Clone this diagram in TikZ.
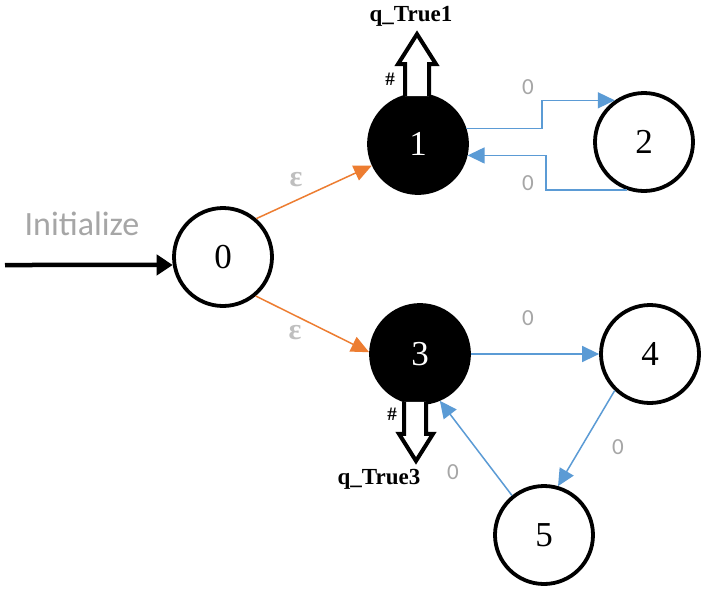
\documentclass[tikz,border=0pt]{standalone}
\usepackage{fontspec}
\setmainfont{Liberation Serif}
\newfontfamily\calib{Carlito}
\usetikzlibrary{arrows.meta,calc}
\definecolor{oedgec}{HTML}{ED7D31}
\definecolor{bedgec}{HTML}{5B9BD5}
\definecolor{lblgray}{HTML}{A6A6A6}
\definecolor{epsgray}{HTML}{BFBFBF}
\tikzset{
  state/.style={circle,draw=black,line width=3.8pt,fill=white,minimum size=98pt,inner sep=0pt,font=\fontsize{35}{35}\selectfont},
  accstate/.style={state,fill=black,text=white},
  oedge/.style={draw=oedgec,line width=1.5pt,-{Triangle[length=18pt,width=16pt]}},
  bedge/.style={draw=bedgec,line width=1.5pt,-{Triangle[length=17pt,width=16pt]}},
  initedge/.style={draw=black,line width=4.5pt,-{Triangle[length=16pt,width=20pt]}},
  blockarrow/.style={draw=black,line width=4pt,fill=white,line join=miter},
  zlbl/.style={text=lblgray,font=\calib\fontsize{23}{23}\selectfont,inner sep=0pt},
  elbl/.style={text=epsgray,font=\bfseries\fontsize{30}{30}\selectfont,inner sep=0pt},
  qlbl/.style={font=\bfseries\fontsize{23}{23}\selectfont,inner sep=0pt},
  hlbl/.style={font=\bfseries\fontsize{19}{19}\selectfont,inner sep=0pt},
}
\begin{document}
\begin{tikzpicture}[x=1pt,y=-1pt]
\useasboundingbox[fill=white] (0,0) rectangle (714,600);
% states
\node[state] (n0) at (223,257) {0};
\node[accstate] (n1) at (418,144) {1};
\node[state] (n2) at (644,142) {2};
\node[accstate] (n3) at (420,354) {3};
\node[state] (n4) at (650,354) {4};
\node[state] (n5) at (544,535) {5};
% initial arrow
\coordinate (start) at (5,265);
\draw[initedge] (start) -- (n0.189);
\node[text=lblgray,font=\calib\fontsize{34}{34}\selectfont,inner sep=0pt] (init) at (82,224) {Initialize};
% epsilon edges
\draw[oedge] (n0.49) -- (n1.205);
\draw[oedge] (n0.310) -- (n3.178);
\node[elbl] (e1) at (296,180) {ε};
\node[elbl] (e2) at (295,333) {ε};
% 1 <-> 2
\coordinate (c12) at (542,0);
\coordinate (c21) at (546,0);
\draw[bedge] (n1.18) -| (c12 |- n2.125) -- (n2.125);
\draw[bedge] (n2.250) -| (c21 |- n1.347) -- (n1.347);
\node[zlbl] (l12) at (528,87) {0};
\node[zlbl] (l21) at (528,183) {0};
% 3 -> 4 -> 5 -> 3
\draw[bedge] (n3) -- (n4);
\draw[bedge] (n4.226) -- (n5.74);
\draw[bedge] (n5.129) -- (n3.293);
\node[zlbl] (l34) at (528,318) {0};
\node[zlbl] (l45) at (618,447) {0};
\node[zlbl] (l53) at (453,472) {0};
% block arrows
\draw[blockarrow] ($(n1.north)+(-13,3)$) -- ($(n1.north)+(-13,-29)$) -- ($(n1.north)+(-20,-29)$) -- ($(n1.north)+(-1,-59)$) -- ($(n1.north)+(18,-29)$) -- ($(n1.north)+(11,-29)$) -- ($(n1.north)+(11,3)$);
\node[qlbl] (q1) at (411,16) {q\_True1};
\node[hlbl] (h1) at (390,79) {\#};
\draw[blockarrow] ($(n3.south)+(-16,-3)$) -- ($(n3.south)+(-16,29)$) -- ($(n3.south)+(-21,29)$) -- ($(n3.south)+(-4,56)$) -- ($(n3.south)+(13,29)$) -- ($(n3.south)+(6,29)$) -- ($(n3.south)+(6,-3)$);
\node[qlbl] (q3) at (379,479) {q\_True3};
\node[hlbl] (h3) at (392,414) {\#};
\end{tikzpicture}
\end{document}
